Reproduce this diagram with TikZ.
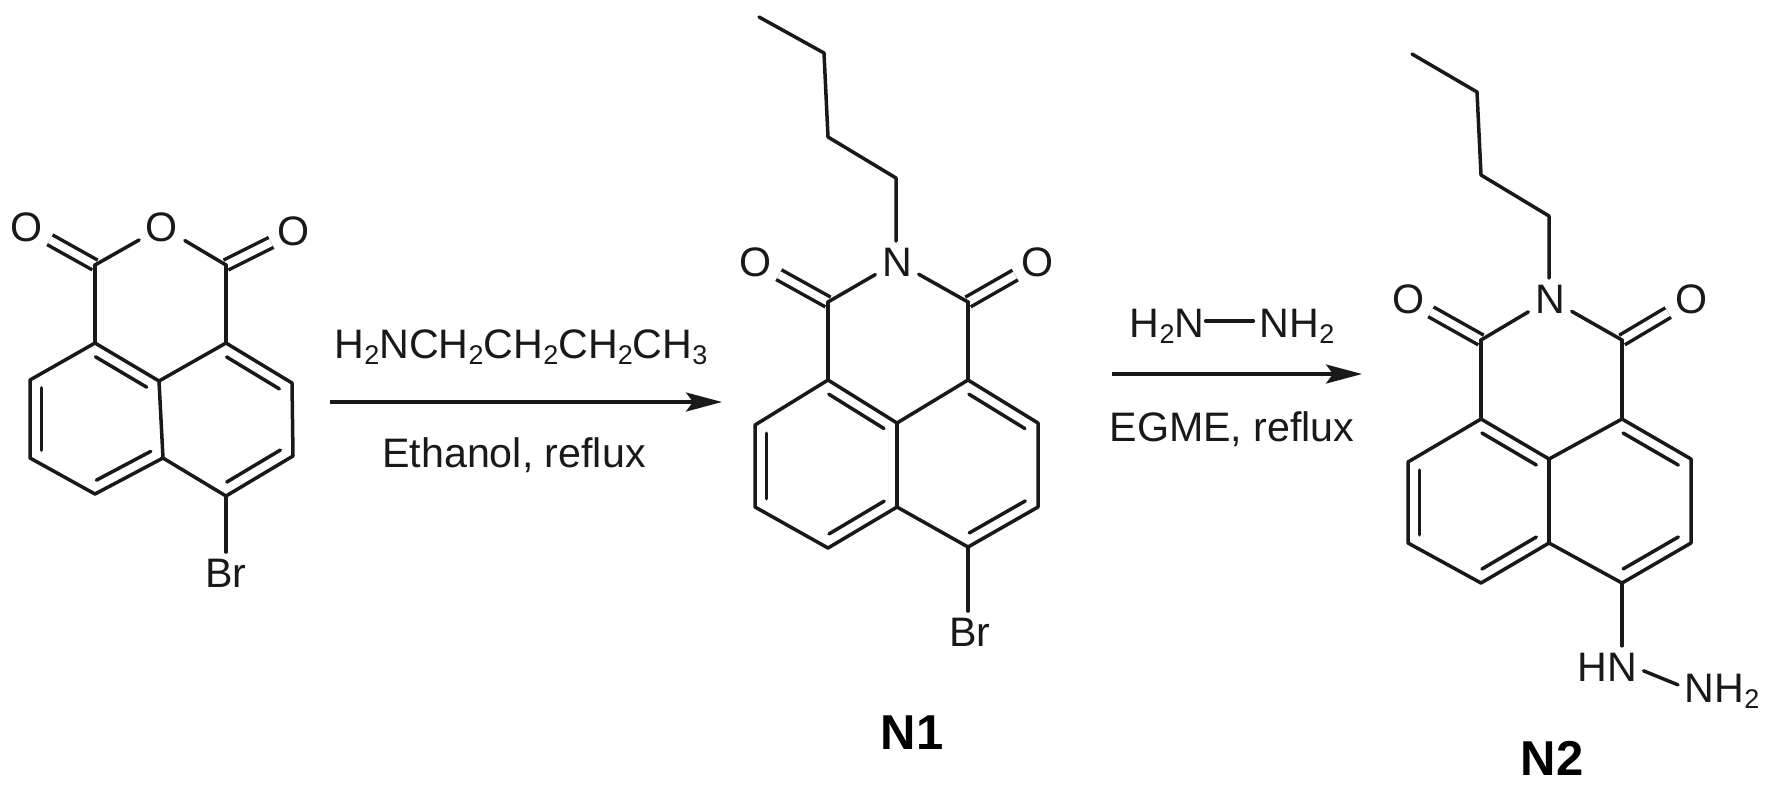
\documentclass[tikz,border=0pt]{standalone}
\usepackage{fontspec}
\setmainfont{Liberation Sans}
\usetikzlibrary{arrows.meta,calc}
\newcommand{\lowidx}[1]{\raisebox{-3pt}{\fontsize{13.5}{13.5}\selectfont #1}}
\newcommand{\inbond}[2]{\draw [bond] ($(#1)!.1!(#2)!5.8pt!90:(#2)$) -- ($(#2)!.1!(#1)!5.8pt!-90:(#1)$);}
\tikzset{
  bond/.style={line width=1.75pt,line cap=round,line join=round,color=black!90},
  cobond/.style={line width=1.75pt,color=black!90,double=white,double distance=3.75pt},
  atom/.style={font=\fontsize{20.6}{20.6}\selectfont,inner sep=3.2pt,text=black!90},
  cond/.style={font=\fontsize{20.6}{20.6}\selectfont,inner sep=3pt,anchor=base,text=black!90},
  tag/.style={font=\fontsize{24.5}{24.5}\selectfont\bfseries,inner sep=0pt,text=black},
  yield/.style={line width=1.75pt,color=black!90,-{Stealth[length=18pt,width=9.5pt,inset=3.5pt]}}
}
\begin{document}
\begin{tikzpicture}[x=0.5pt,y=-0.5pt]
\useasboundingbox (0,0) rectangle (1770,794);
% anhydride
\foreach \name/\px/\py in {Aco1/95/265,Aco2/226/265,Aa1/95/343,Aa2/226/343,Acu/159/381,Alu/30/380,All/30/458,
  Abl/95/494,Acl/163/458,Abr/226/496,Arl/293/456,Aru/292/383}
  \coordinate (\name) at (\px,\py);
\node [atom] (Aox) at (162,227) {O};
\node [atom] (Aol) at (27,227) {O};
\node [atom] (Aor) at (294,231) {O};
\node [atom] (Abrom) at (226,573) {Br};
% N1
\foreach \name/\px/\py in {Bco1/828/302,Bco2/968/302,Ba1/828/380,Ba2/968/380,Bcu/897/423,Blu/755/425,Bll/755/507,
  Bbl/828/548,Bcl/897/507,Bbr/968/547,Brl/1038/507,Bru/1038/423,Bch1/759/17,Bch2/824/53,Bch3/828/137,Bch4/896/178}
  \coordinate (\name) at (\px,\py);
\node [atom] (Bnit) at (897,262) {N};
\node [atom] (Bol) at (756,262) {O};
\node [atom] (Bor) at (1038,262) {O};
\node [atom] (Bbrom) at (970,632) {Br};
\node [tag] (Btag) at (912,733) {N1};
% N2
\foreach \name/\px/\py in {Cco1/1481/340,Cco2/1622/340,Ca1/1481/419,Ca2/1622/419,Ccu/1549/459,Clu/1408/462,Cll/1408/543,
  Cbl/1481/583,Ccl/1549/543,Cbr/1622/583,Crl/1691/543,Cru/1691/459,Cch1/1412/54,Cch2/1477/92,Cch3/1481/175,Cch4/1549/216}
  \coordinate (\name) at (\px,\py);
\node [atom] (Cnit) at (1550,299) {N};
\node [atom] (Col) at (1408,299) {O};
\node [atom] (Cor) at (1691,299) {O};
\node [atom,anchor=base] (Chn) at (1607,681) {HN};
\node [atom,anchor=base] (Cnh) at (1722,702) {NH\lowidx{2}};
\node [tag] (Ctag) at (1552,758) {N2};
% C=O first, the ring goes over their ends
\draw [cobond] (Aco1) -- (Aol);
\draw [cobond] (Aco2) -- (Aor);
\draw [cobond] (Bco1) -- (Bol);
\draw [cobond] (Bco2) -- (Bor);
\draw [cobond] (Cco1) -- (Col);
\draw [cobond] (Cco2) -- (Cor);
% the skeleton is the same three times
\foreach \m in {A,B,C} {
  \draw [bond] (\m a1) -- (\m lu) -- (\m ll) -- (\m bl) -- (\m cl) -- (\m br) -- (\m rl) -- (\m ru) -- (\m a2) -- (\m cu) -- cycle;
  \draw [bond] (\m cu) -- (\m cl);
  \draw [bond] (\m a1) -- (\m co1);
  \draw [bond] (\m a2) -- (\m co2);
  \inbond{\m cu}{\m a1}
  \inbond{\m lu}{\m ll}
  \inbond{\m bl}{\m cl}
  \inbond{\m br}{\m rl}
  \inbond{\m ru}{\m a2}
}
\draw [bond] (Aco1) -- (Aox);
\draw [bond] (Aco2) -- (Aox);
\draw [bond] (Abr) -- (Abr |- Abrom.north);
\draw [bond] (Bco1) -- (Bnit);
\draw [bond] (Bco2) -- (Bnit);
\draw [bond] (Bch1) -- (Bch2) -- (Bch3) -- (Bch4) -- (Bch4 |- Bnit.north);
\draw [bond] (Bbr) -- (Bbr |- Bbrom.north);
\draw [bond] (Cco1) -- (Cnit);
\draw [bond] (Cco2) -- (Cnit);
\draw [bond] (Cch1) -- (Cch2) -- (Cch3) -- (Cch4) -- (Cch4 |- Cnit.north);
\draw [bond] (Cbr) -- (Cbr |- Chn.north);
\draw [bond] ([yshift=-2pt]Chn.east) -- ([yshift=3pt]Cnh.west);
% first arrow
\coordinate (fromA) at (330,402);
\coordinate (toB) at (722,402);
\draw [yield] (fromA) -- (toB);
\node [cond] (amine) at (521,358) {H\lowidx{2}NCH\lowidx{2}CH\lowidx{2}CH\lowidx{2}CH\lowidx{3}};
\node [cond] (ethanol) at (514,467) {Ethanol, reflux};
% second arrow
\coordinate (fromB) at (1112,374);
\coordinate (toC) at (1362,374);
\draw [yield] (fromB) -- (toC);
\node [cond] (hyda) at (1167,337) {H\lowidx{2}N};
\node [cond] (hydb) at (1297,337) {NH\lowidx{2}};
\draw [bond] ([xshift=-2.5pt,yshift=2.5pt]hyda.east) -- ([yshift=2.5pt]hydb.west);
\node [cond] (egme) at (1232,441) {EGME, reflux};
\end{tikzpicture}
\end{document}
